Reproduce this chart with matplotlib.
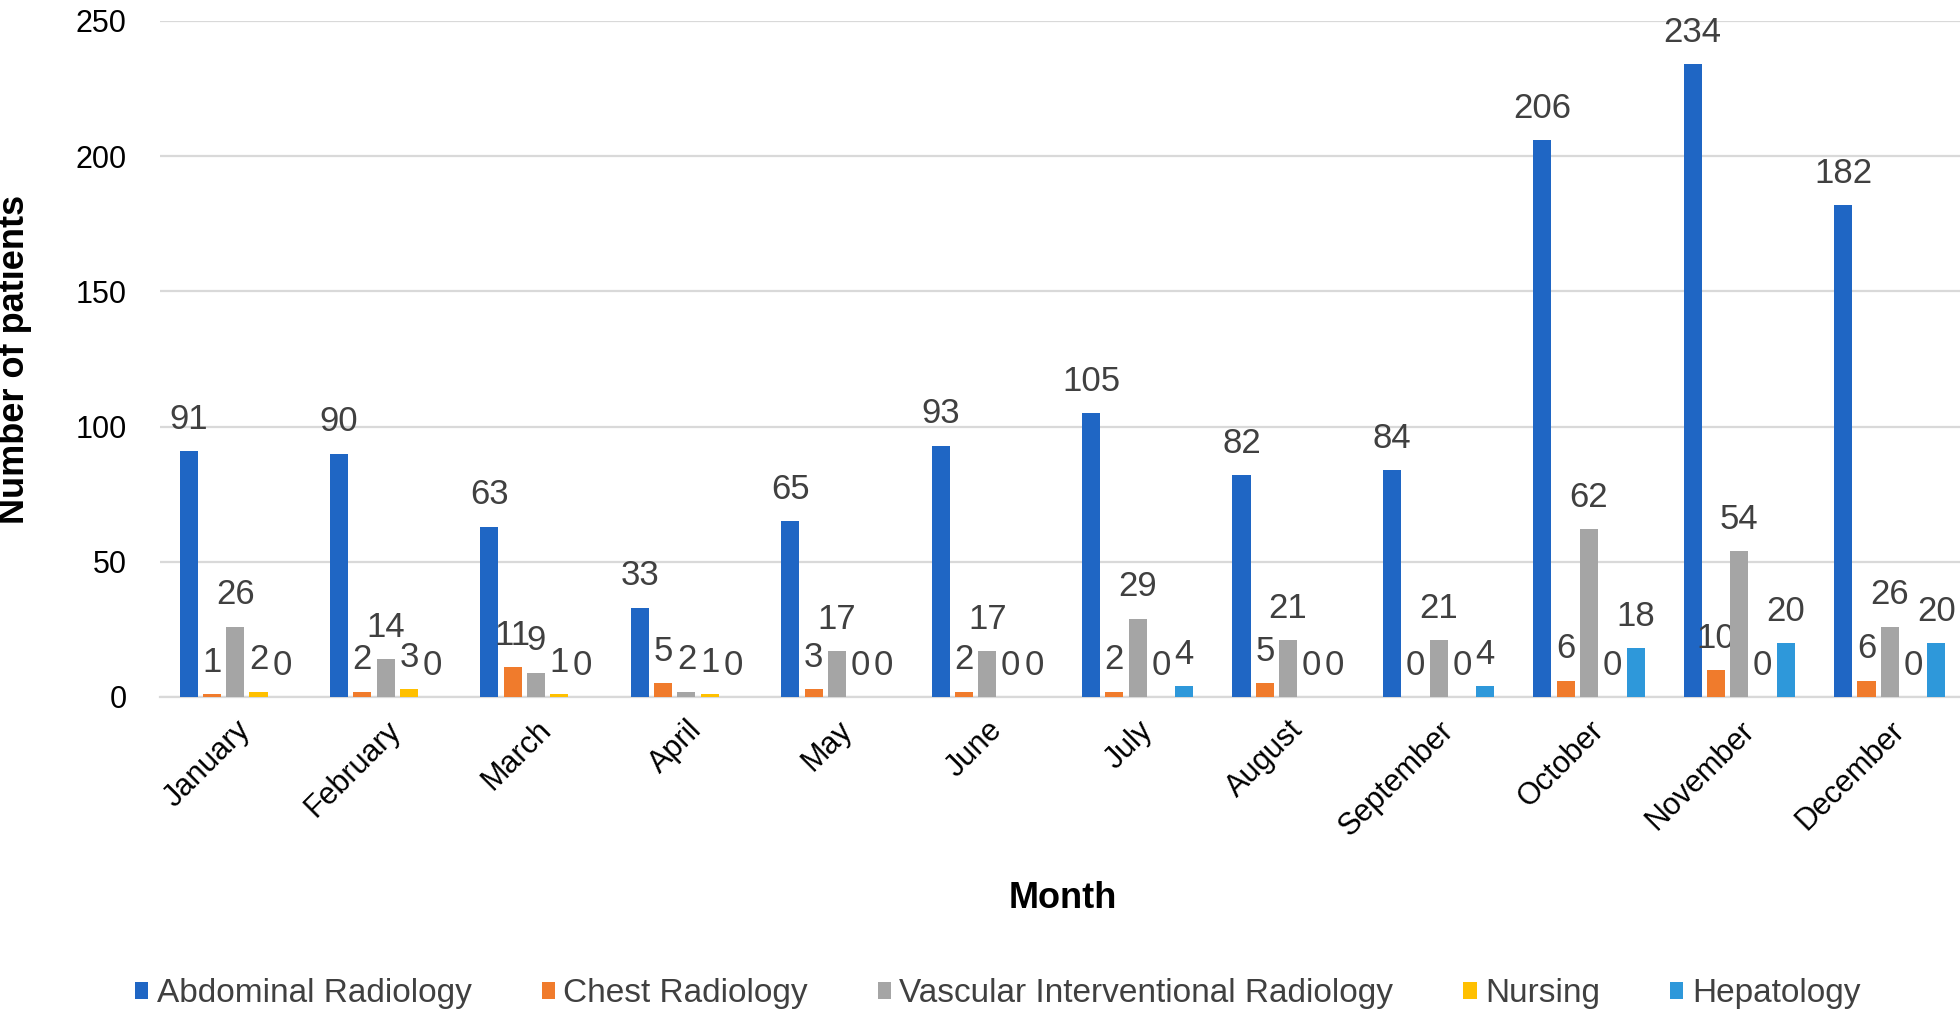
import numpy as np
import matplotlib.pyplot as plt

plt.rcParams['font.family'] = ['Liberation Sans', 'DejaVu Sans']

months = ['January', 'February', 'March', 'April', 'May', 'June', 'July',
          'August', 'September', 'October', 'November', 'December']
abdominal = [91, 90, 63, 33, 65, 93, 105, 82, 84, 206, 234, 182]
chest = [1, 2, 11, 5, 3, 2, 2, 5, 0, 6, 10, 6]
vascular = [26, 14, 9, 2, 17, 17, 29, 21, 21, 62, 54, 26]
nursing = [2, 3, 1, 1, 0, 0, 0, 0, 0, 0, 0, 0]
hepatology = [0, 0, 0, 0, 0, 0, 4, 0, 4, 18, 20, 20]

series = [
    ('Abdominal Radiology', abdominal, '#1F66C4'),
    ('Chest Radiology', chest, '#F07B2C'),
    ('Vascular Interventional Radiology', vascular, '#A5A5A5'),
    ('Nursing', nursing, '#FFC000'),
    ('Hepatology', hepatology, '#2E98DA'),
]

fig = plt.figure(figsize=(19.6, 10.18), dpi=100)
ax = fig.add_axes([160 / 1960, 1 - 697 / 1018, 1805 / 1960, 676 / 1018])

x = np.arange(len(months))
step = 0.155
width = 0.12
for i, (name, vals, col) in enumerate(series):
    bars = ax.bar(x + (i - 2) * step, vals, width, color=col, label=name, zorder=3)
    ax.bar_label(bars, padding=11, fontsize=25, color='#404040')

ax.set_xlim(-0.5, len(months) - 0.5)
ax.set_ylim(0, 250)
ax.set_yticks([0, 50, 100, 150, 200, 250])
ax.yaxis.grid(True, color='#D9D9D9', linewidth=1.6, zorder=0)
for s in ['top', 'right', 'left']:
    ax.spines[s].set_visible(False)
ax.spines['bottom'].set_color('#D9D9D9')
ax.spines['bottom'].set_linewidth(1.6)
ax.tick_params(axis='y', length=0, pad=24, labelsize=22)
ax.tick_params(axis='x', length=0, pad=13, labelsize=22)
ax.set_xticks(x)
ax.set_xticklabels(months, rotation=45, ha='right', rotation_mode='anchor')

ax.set_ylabel('Number of patients', fontsize=26, fontweight='bold')
ax.yaxis.set_label_coords(-0.071, 0.5)
ax.set_xlabel('Month', fontsize=26, fontweight='bold', va='top')
ax.xaxis.set_label_coords(0.5, -0.272)

fig.legend(loc='center', bbox_to_anchor=(0.509, 0.024), ncol=5, frameon=False,
           fontsize=24, handlelength=0.4, handleheight=0.4, handletextpad=0.25,
           columnspacing=2.1, labelcolor='#404040')

fig.savefig('out.png', dpi=100)
